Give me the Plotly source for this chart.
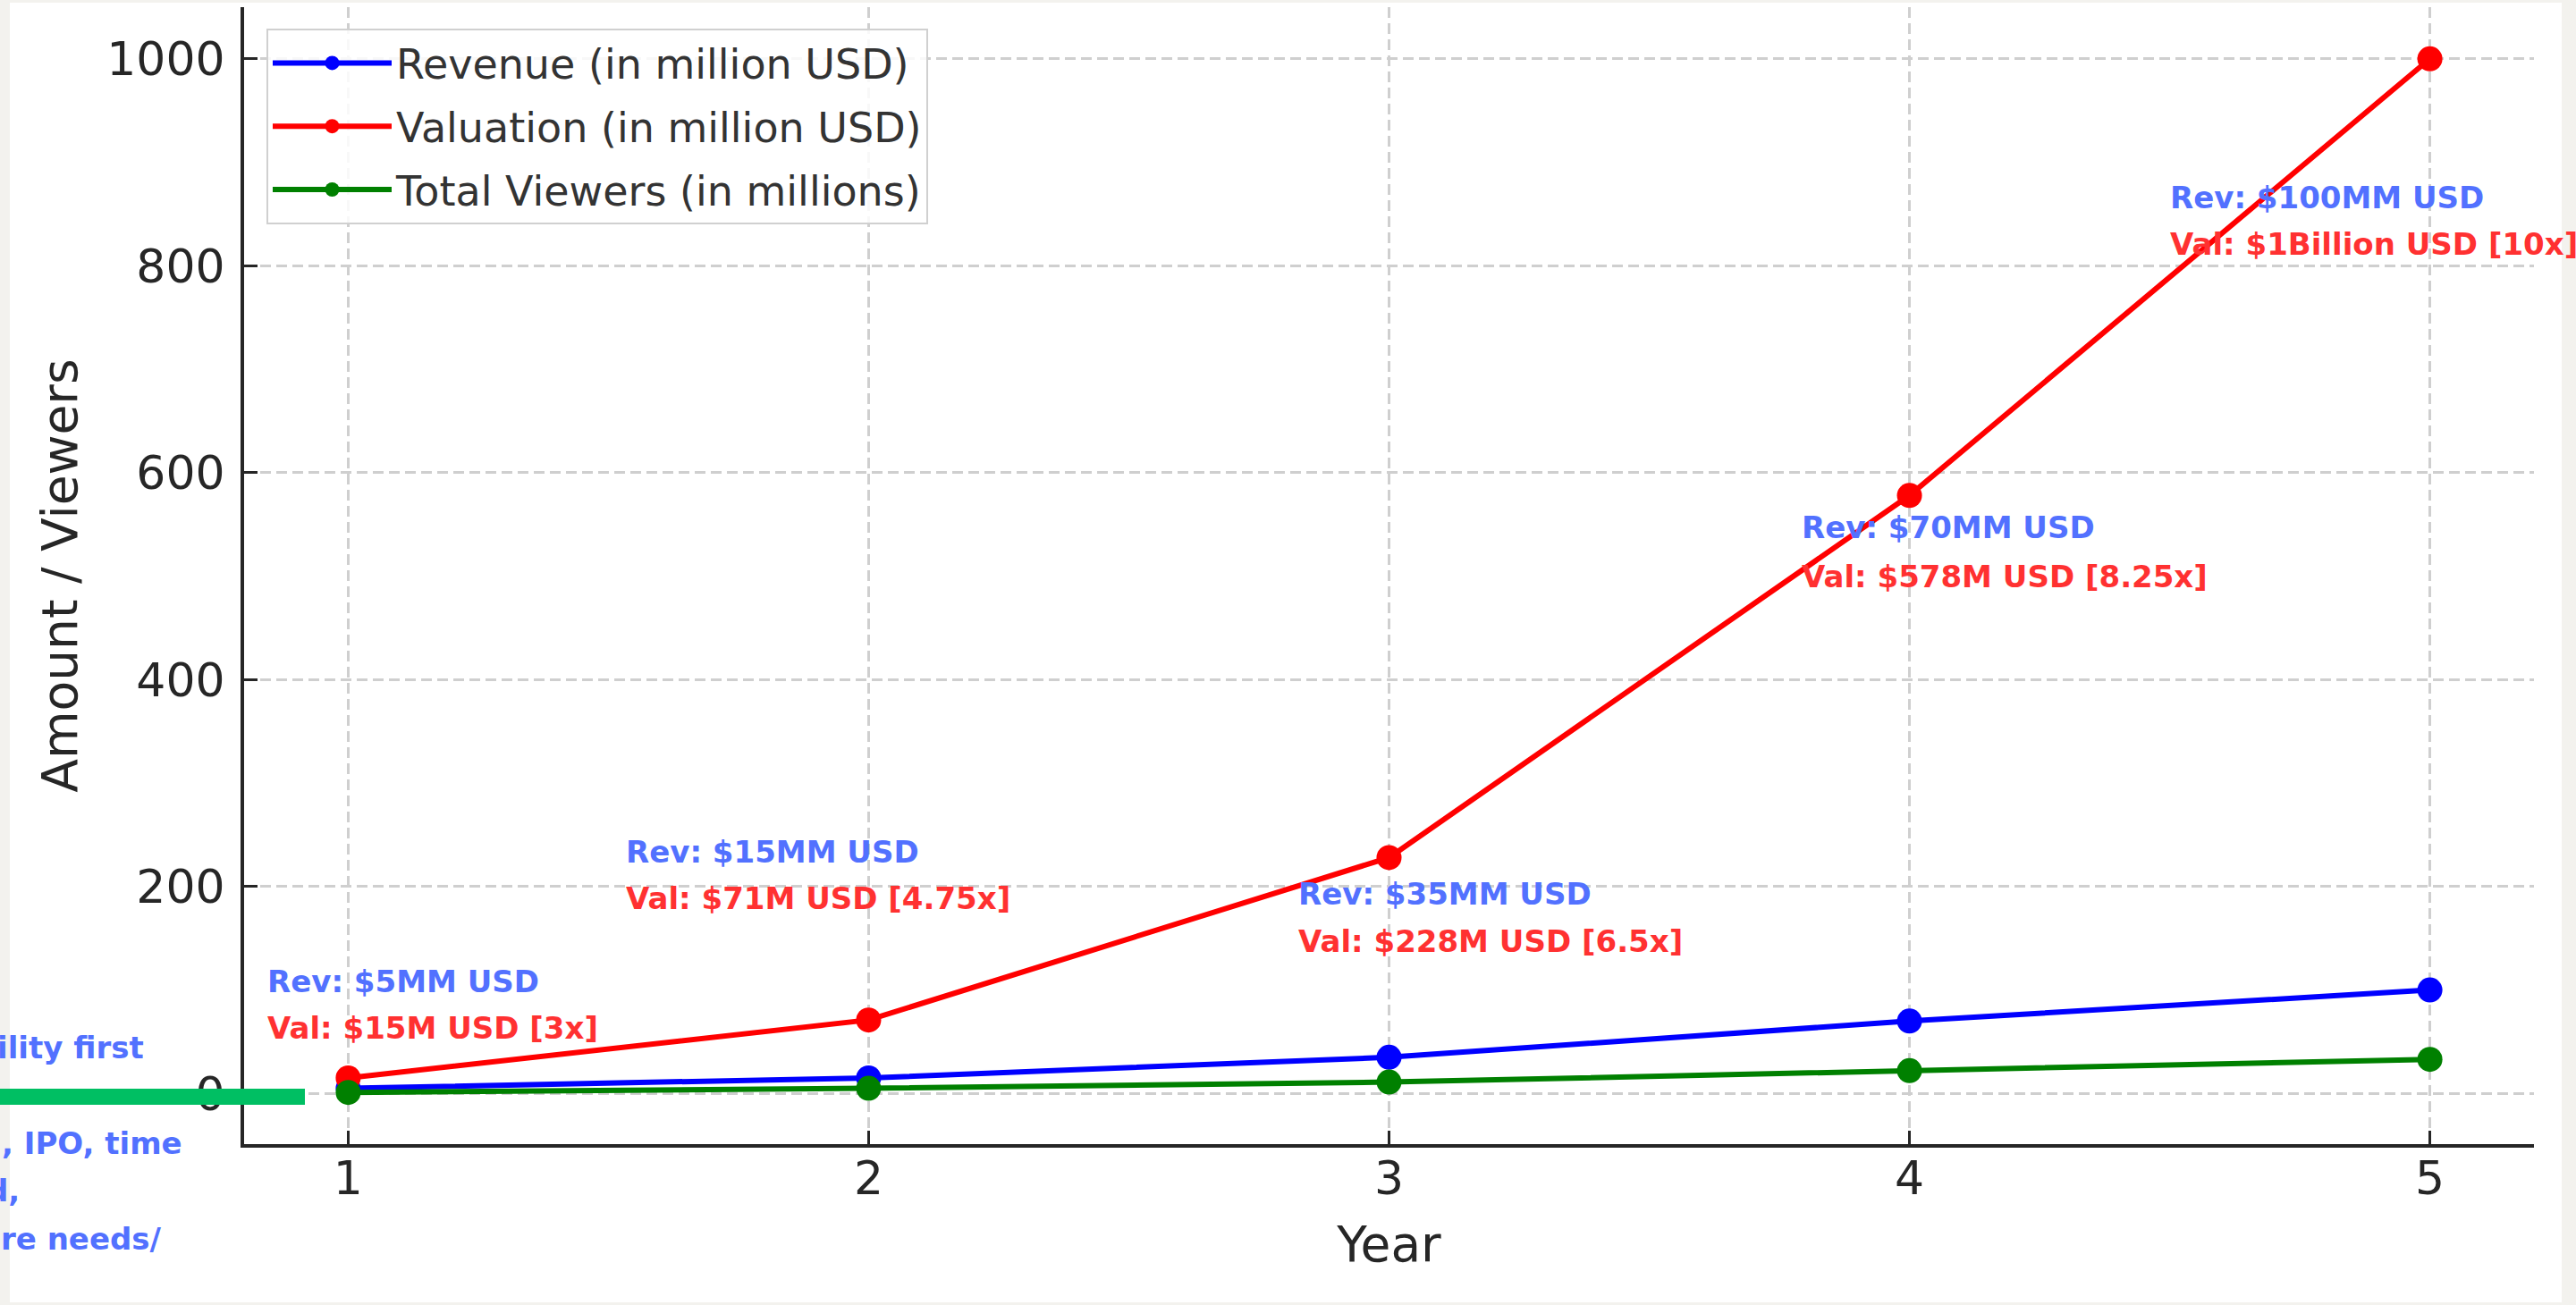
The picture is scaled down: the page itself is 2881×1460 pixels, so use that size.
import plotly.graph_objects as go

# ---------------- data ----------------
years = [1, 2, 3, 4, 5]
revenue = [5, 15, 35, 70, 100]
valuation = [15, 71, 228, 578, 1000]
viewers = [1, 5, 11, 22, 33]

series_names = ["Revenue (in million USD)", "Valuation (in million USD)", "Total Viewers (in millions)"]
x_ticks = [1, 2, 3, 4, 5]
y_ticks = [0, 200, 400, 600, 800, 1000]

rev_labels = ["Rev: $5MM USD", "Rev: $15MM USD", "Rev: $35MM USD", "Rev: $70MM USD", "Rev: $100MM USD"]
val_labels = ["Val: $15M USD [3x]", "Val: $71M USD [4.75x]", "Val: $228M USD [6.5x]",
              "Val: $578M USD [8.25x]", "Val: $1Billion USD [10x]"]
side_labels = ["ility first", ", IPO, time", "d,", "re needs/"]

# ---------------- layout / styling (positions in data/paper coords) ----------------
W, H = 2881, 1460
L, R, T, B = 273, 47, 8, 180
ann_x = [0.842, 1.531, 2.823, 3.789, 4.497]
ann_y_rev = [108.4, 233.7, 193.1, 547.3, 866.0]
ann_y_val = [63.5, 188.8, 147.3, 499.8, 821.2]

pw = W - L - R
ph = H - T - B


def px_x(px):
    return (px - L) / pw


def px_y(py):
    return (H - B - py) / ph


side_pos = [(-5, 1172), (0, 1279), (-17, 1332), (-1, 1386)]

BLUE_TXT = "#5271ff"
RED_TXT = "#ff3131"
GREEN_BAR = "#00bf63"
BEIGE = "#f3f2ee"

fig = go.Figure()
for name, vals, col in zip(series_names, [revenue, valuation, viewers], ["#0000ff", "#ff0000", "#008000"]):
    fig.add_trace(go.Scatter(
        x=years, y=vals, name=name, mode="lines+markers",
        line=dict(color=col, width=6),
        marker=dict(color=col, size=28),
        legendgroup=name,
    ))

annotations = []
for xa, yr, yv, tr, tv in zip(ann_x, ann_y_rev, ann_y_val, rev_labels, val_labels):
    annotations.append(dict(x=xa, y=yr, xref="x", yref="y", text=tr, showarrow=False,
                            xanchor="left", yanchor="middle",
                            font=dict(family="DejaVu Sans", size=34, color=BLUE_TXT, weight="bold")))
    annotations.append(dict(x=xa, y=yv, xref="x", yref="y", text=tv, showarrow=False,
                            xanchor="left", yanchor="middle",
                            font=dict(family="DejaVu Sans", size=34, color=RED_TXT, weight="bold")))
for txt, (sx, sy) in zip(side_labels, side_pos):
    annotations.append(dict(x=px_x(sx), y=px_y(sy), xref="paper", yref="paper", text=txt,
                            showarrow=False, xanchor="left", yanchor="middle",
                            font=dict(family="DejaVu Sans", size=34, color=BLUE_TXT, weight="bold")))

shapes = [
    dict(type="rect", xref="paper", yref="paper", layer="below",
         x0=px_x(11), x1=px_x(2865), y0=px_y(1457), y1=px_y(3),
         fillcolor="white", line=dict(width=0)),
    dict(type="rect", xref="paper", yref="paper", layer="above",
         x0=px_x(0), x1=px_x(341), y0=px_y(1236), y1=px_y(1218),
         fillcolor=GREEN_BAR, line=dict(width=0)),
]

axis_common = dict(
    showline=True, linewidth=4, linecolor="#262626", mirror=False,
    ticks="inside", ticklen=15, tickwidth=3, tickcolor="#262626",
    showgrid=True, gridcolor="#cfcfcf", gridwidth=2.5, griddash="12px,6px",
    zeroline=False,
    tickfont=dict(family="DejaVu Sans", size=52, color="#262626"),
)

fig.update_layout(
    width=W, height=H,
    margin=dict(l=L, r=R, t=T, b=B, pad=0),
    paper_bgcolor=BEIGE, plot_bgcolor="white",
    font=dict(family="DejaVu Sans", color="#262626"),
    xaxis=dict(range=[0.8, 5.2], tickvals=x_ticks, ticklabelstandoff=-10,
               title=dict(text="Year", font=dict(family="DejaVu Sans", size=55, color="#262626"), standoff=26),
               **axis_common),
    yaxis=dict(range=[-48.95, 1049.95], tickvals=y_ticks, ticklabelstandoff=7,
               title=dict(text="Amount / Viewers", font=dict(family="DejaVu Sans", size=55, color="#262626"), standoff=16),
               **axis_common),
    legend=dict(x=px_x(298), y=px_y(32), xanchor="left", yanchor="top",
                bgcolor="rgba(255,255,255,0.85)", bordercolor="#d0d0d0", borderwidth=2,
                font=dict(family="DejaVu Sans", size=46, color="#333333"),
                itemwidth=133, tracegroupgap=8),
    annotations=annotations,
    shapes=shapes,
    showlegend=True,
)

fig.write_html("out.html")
